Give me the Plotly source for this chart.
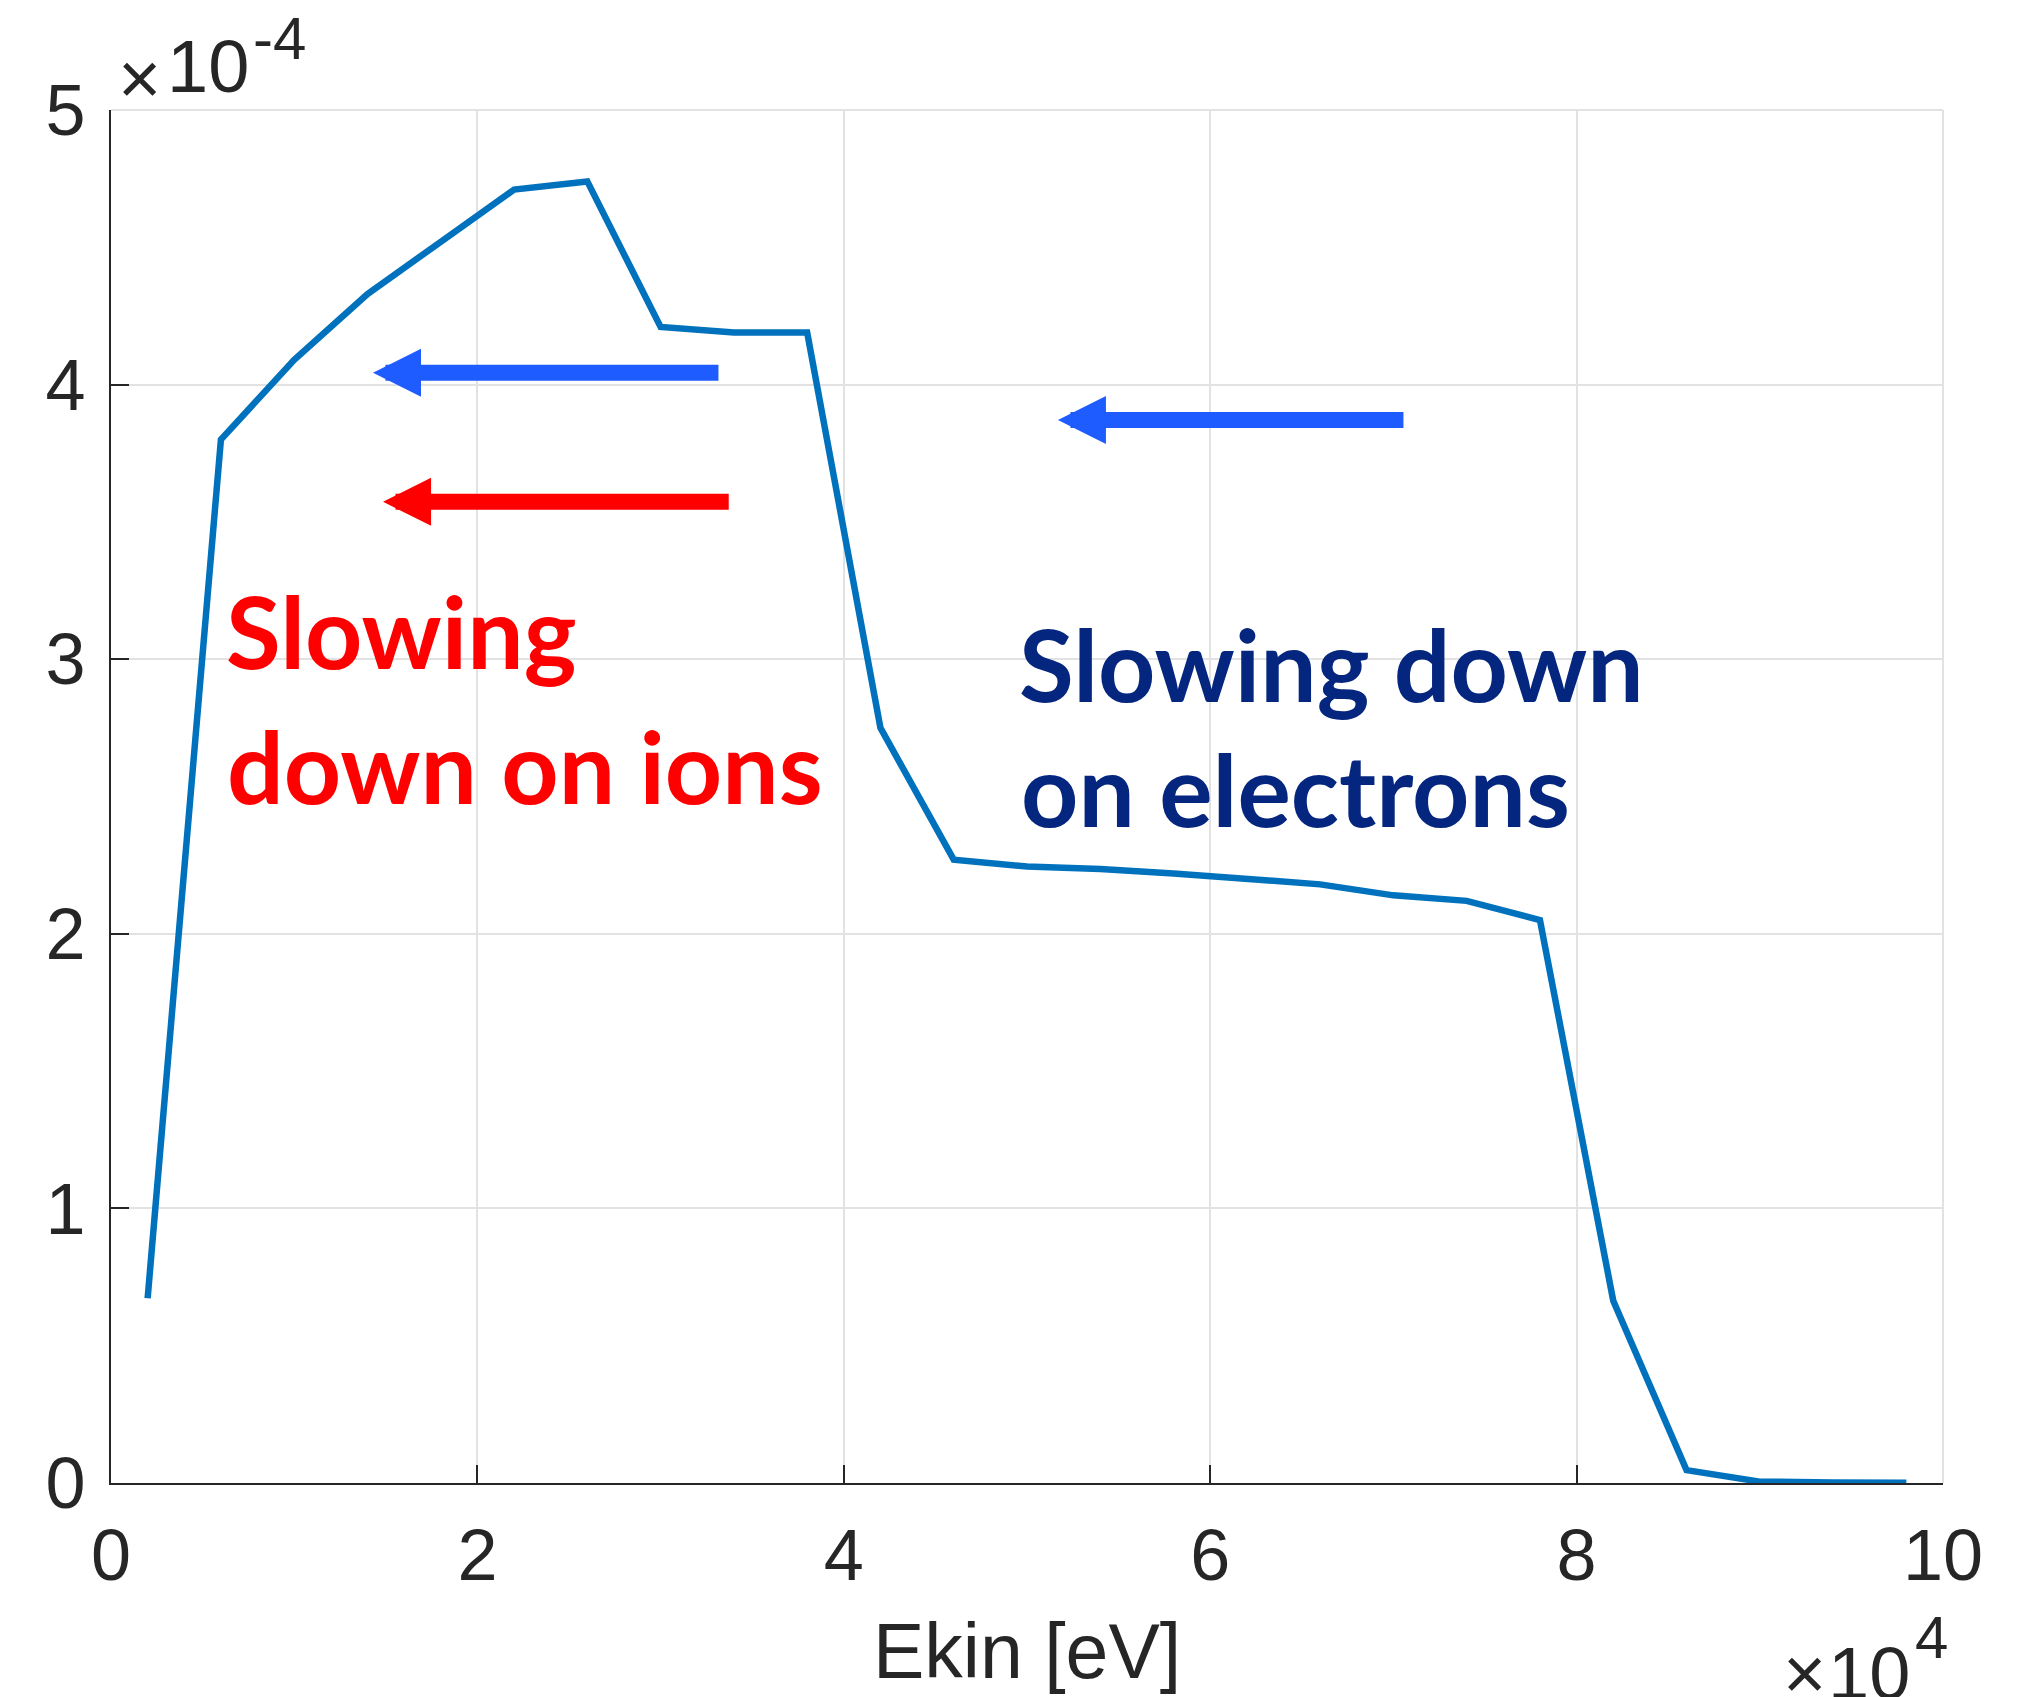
import plotly.graph_objects as go

# kinetic energy grid [eV] and distribution values
ekin = [2000, 6000, 10000, 14000, 18000, 22000, 26000, 30000, 34000, 38000,
        42000, 46000, 50000, 54000, 58000, 62000, 66000, 70000, 74000, 78000,
        82000, 86000, 90000, 94000, 98000]
dist = [0.673e-4, 3.80e-4, 4.09e-4, 4.33e-4, 4.52e-4, 4.71e-4, 4.74e-4, 4.21e-4, 4.19e-4, 4.19e-4,
        2.75e-4, 2.27e-4, 2.245e-4, 2.236e-4, 2.22e-4, 2.20e-4, 2.18e-4, 2.14e-4, 2.12e-4, 2.05e-4,
        0.664e-4, 0.047e-4, 0.005e-4, 0.002e-4, 0.001e-4]

xtick_vals = [0, 20000, 40000, 60000, 80000, 100000]
xtick_text = ["0", "2", "4", "6", "8", "10"]
ytick_vals = [0, 1e-4, 2e-4, 3e-4, 4e-4, 5e-4]
ytick_text = ["0", "1", "2", "3", "4", "5"]

W, H = 2028, 1697
L, T = 111, 110
PW, PH = 1832, 1373.5
R = W - L - PW
B = H - T - PH


def px(x):
    return (x - L) / PW


def py(y):
    return (T + PH - y) / PH


axis_family = "Liberation Sans, Arial, sans-serif"
axis_font = dict(family=axis_family, size=72, color="#262626")
label_font = "Lato, sans-serif"

fig = go.Figure()
fig.add_trace(go.Scatter(x=ekin, y=dist, mode="lines",
                         line=dict(color="#0072BD", width=6.5), showlegend=False))

axis_common = dict(showline=True, linecolor="#262626", linewidth=2,
                   ticks="inside", ticklen=18, tickwidth=2, tickcolor="#262626",
                   showgrid=True, gridcolor="#E2E2E2", gridwidth=1.5,
                   zeroline=False, tickfont=axis_font)

fig.update_layout(
    width=W, height=H,
    margin=dict(l=L, r=R, t=T, b=B, pad=0),
    plot_bgcolor="white", paper_bgcolor="white",
    xaxis=dict(range=[0, 100000], tickvals=xtick_vals, ticktext=xtick_text,
               ticklabelstandoff=9, **axis_common),
    yaxis=dict(range=[0, 5e-4], tickvals=ytick_vals, ticktext=ytick_text,
               ticklabelstandoff=9, **axis_common),
)

# light top / right frame, like the MATLAB box
fig.add_shape(type="line", xref="paper", yref="paper", x0=0, x1=1, y0=1, y1=1,
              line=dict(color="#E2E2E2", width=2))
fig.add_shape(type="line", xref="paper", yref="paper", x0=1, x1=1, y0=0, y1=1,
              line=dict(color="#E2E2E2", width=2))

# arrows (tip, tail, y, colour)
arrows = [
    (14300, 33240, 4.043e-4, "#1F5CFF"),
    (14850, 33800, 3.573e-4, "#FF0000"),
    (51690, 70630, 3.871e-4, "#1F5CFF"),
]
for tip, tail, yv, col in arrows:
    fig.add_annotation(x=tip, y=yv, ax=tail, ay=yv, xref="x", yref="y",
                       axref="x", ayref="y", text="", showarrow=True,
                       arrowhead=2, arrowwidth=16, arrowsize=0.6, arrowcolor=col)

texts = [
    ("Slowing", 224, 668, "#FF0000"),
    ("down on ions", 225, 803, "#FF0000"),
    ("Slowing down", 1017, 701, "#05267E"),
    ("on electrons", 1019, 826, "#05267E"),
]
for txt, x0, base, col in texts:
    fig.add_annotation(text="<b>%s</b>" % txt, x=px(x0), y=py(base - 38),
                       xref="paper", yref="paper", xanchor="left", yanchor="middle",
                       showarrow=False, font=dict(family=label_font, size=100, color=col))

# axis title
fig.add_annotation(text="Ekin [eV]", x=0.5, y=py(1652), xref="paper", yref="paper",
                   xanchor="center", yanchor="middle", showarrow=False,
                   font=dict(family=axis_family, size=77, color="#262626"))

# exponent labels: (text, anchor x, anchor side, centre y, size)
exp_parts = [
    ("×", 116, "left", 78, 74),
    ("10", 251, "right", 66, 74),
    ("-4", 251, "left", 38, 60),
    ("×", 1781, "left", 1674, 74),
    ("10", 1912, "right", 1674, 74),
    ("4", 1913, "left", 1638, 60),
]
for txt, x0, side, yc, size in exp_parts:
    fig.add_annotation(text=txt, x=px(x0), y=py(yc), xref="paper", yref="paper",
                       xanchor=side, yanchor="middle", showarrow=False,
                       font=dict(family=axis_family, size=size, color="#262626"))

fig.write_html("out.html", config={"displayModeBar": False},
               post_script="document.body.style.margin='0';document.body.style.overflow='hidden';")
